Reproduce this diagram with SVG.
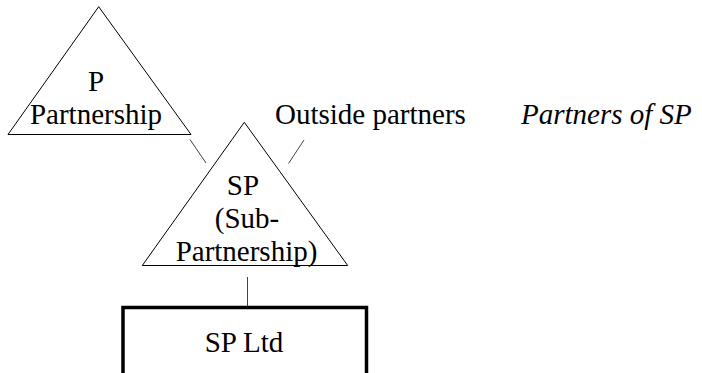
<svg xmlns="http://www.w3.org/2000/svg" width="702" height="373" viewBox="0 0 702 373">
<style>
.tri{fill:none;stroke:#000;stroke-width:1}
.t{font-size:29px;fill:#000}
.c{text-anchor:middle}
.it{font-style:italic}
.con{stroke:#444;stroke-width:1;fill:none}
.box{fill:none;stroke:#000;stroke-width:3.5}
</style>
<rect width="702" height="373" fill="#fff"/>
<g id="connectors">
<line class="con" x1="190" y1="139.5" x2="206" y2="163"/>
<line class="con" x1="304" y1="140" x2="288.5" y2="163.5"/>
<line class="con" x1="247.5" y1="277" x2="247.5" y2="306"/>
</g>
<g font-family="Liberation Serif, serif">
<g id="p-partnership">
<polygon class="tri" points="98.7,6.7 8,134.5 191,134.5"/>
<text class="t c" x="96" y="91">P</text>
<text class="t c" x="96" y="124">Partnership</text>
</g>
<g id="sp">
<polygon class="tri" points="244.3,122.3 142.3,265.5 347.7,265.5"/>
<text class="t c" x="243" y="195">SP</text>
<text class="t c" x="247" y="228">(Sub-</text>
<text class="t c" x="246.5" y="261">Partnership)</text>
</g>
<g id="outside-partners">
<text class="t" x="275" y="124">Outside partners</text>
</g>
<g id="partners-of-sp">
<text class="t it" x="521" y="124">Partners of SP</text>
</g>
<g id="sp-ltd">
<rect class="box" x="123" y="307.5" width="243.5" height="90"/>
<text class="t c" x="244" y="352">SP Ltd</text>
</g>
</g>
</svg>
